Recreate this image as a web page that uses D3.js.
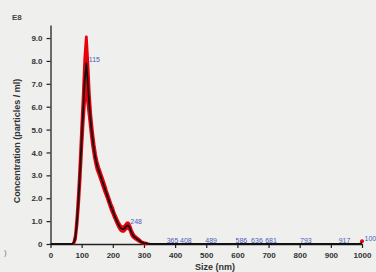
<!DOCTYPE html>
<html><head><meta charset="utf-8">
<script src="https://cdn.jsdelivr.net/npm/d3@7/dist/d3.min.js"></script>
<style>html,body{margin:0;padding:0;background:#efefed;}svg{display:block;}</style>
</head><body>
<svg id="c" width="376" height="272"></svg>
<script>
const sizes = [0, 60, 70, 75, 80, 85, 90, 95, 100, 105, 110, 115, 120, 125, 130, 135, 140, 145, 150, 155, 160, 165, 170, 175, 180, 185, 190, 195, 200, 205, 210, 215, 220, 225, 230, 235, 240, 245, 250, 255, 260, 265, 270, 275, 280, 285, 290, 295, 300, 310, 320, 340, 400, 500, 600, 700, 800, 900, 990, 1000];
const meanConc = [0,0,0.02,0.06,0.3,1.0,2.0,3.2,4.6,5.9,7.2,7.9,7.0,6.0,5.2,4.6,4.1,3.7,3.4,3.2,3.0,2.8,2.6,2.4,2.2,2.0,1.8,1.6,1.45,1.25,1.1,0.95,0.8,0.7,0.65,0.65,0.72,0.8,0.8,0.7,0.5,0.38,0.3,0.25,0.2,0.15,0.1,0.06,0.04,0.02,0.01,0,0,0,0,0,0,0,0,0.05];
const errConc = [0,0,0,0.02,0.1,0.2,0.3,0.4,0.5,0.6,0.9,1.15,0.9,0.5,0.35,0.3,0.25,0.2,0.18,0.15,0.15,0.15,0.15,0.15,0.12,0.12,0.12,0.12,0.12,0.1,0.1,0.1,0.1,0.1,0.1,0.1,0.1,0.12,0.12,0.1,0.1,0.08,0.06,0.05,0.05,0.04,0.03,0.02,0.02,0.01,0,0,0,0,0,0,0,0,0,0.15];
const peakSizes = [115, 248, 365, 408, 489, 586, 636, 681, 793, 917, 1000];
const xTicks = [0,100,200,300,400,500,600,700,800,900,1000];
const yTicks = [0,1,2,3,4,5,6,7,8,9];
const yTickLabels = ["0","1.0","2.0","3.0","4.0","5.0","6.0","7.0","8.0","9.0"];

const svg = d3.select("#c");
const x = d3.scaleLinear().domain([0,1000]).range([50.5,362]);
const y = d3.scaleLinear().domain([0,9.57]).range([244,25]);
const data = sizes.map((s,i)=>({s, m:meanConc[i], e:errConc[i]}));
const font = "Liberation Sans, Arial, sans-serif";

// axes
const xAxis = d3.axisBottom(x).tickValues(xTicks).tickSize(4).tickSizeOuter(0).tickFormat(d3.format("d"));
const gx = svg.append("g").attr("transform","translate(0,244)").call(xAxis);
const yAxis = d3.axisLeft(y).tickValues(yTicks).tickSize(4).tickSizeOuter(0).tickFormat((d,i)=>yTickLabels[i]);
const gy = svg.append("g").attr("transform","translate(50.5,0)").call(yAxis);
[gx,gy].forEach(g=>{
  g.select(".domain").attr("stroke","#222").attr("stroke-width",1.3);
  g.selectAll(".tick line").attr("stroke","#222").attr("stroke-width",1.2);
  g.selectAll(".tick text").attr("fill","#333").attr("font-family",font).attr("font-size",8).attr("font-weight","bold");
});
gx.selectAll(".tick text").attr("dy","0.9em");
gy.selectAll(".tick text").attr("dx","-1");

// red error band (only where there is signal)
const band = data.filter(d=>d.s>=75 && d.s<=310);
const area = d3.area().x(d=>x(d.s)).y0(d=>y(Math.max(0,d.m-d.e))).y1(d=>y(d.m+d.e));
svg.append("path").datum(band).attr("d",area).attr("fill","#e8000b").attr("stroke","#e8000b").attr("stroke-width",2.8).attr("stroke-linejoin","round");
const last = data[data.length-1];
svg.append("circle").attr("cx",x(last.s)).attr("cy",y(last.m+last.e/2)).attr("r",2).attr("fill","#e8000b");
// black mean line
const line = d3.line().x(d=>x(d.s)).y(d=>y(d.m));
svg.append("path").datum(data).attr("d",line).attr("fill","none").attr("stroke","#111").attr("stroke-width",1.8).attr("stroke-linejoin","round");

// peak labels
const interp = s=>{ for(let i=1;i<sizes.length;i++){ if(s<=sizes[i]){const t=(s-sizes[i-1])/(sizes[i]-sizes[i-1]); return meanConc[i-1]+t*(meanConc[i]-meanConc[i-1]);} } return 0; };
svg.append("g").selectAll("text").data(peakSizes).join("text")
  .attr("x",d=>x(d)+2.5).attr("y",d=>y(interp(d))-1.5)
  .attr("fill","#4a5cc0").attr("font-family",font).attr("font-size",7)
  .text(d=>d);

// titles
svg.append("text").attr("x",12).attr("y",20).attr("fill","#444").attr("font-family",font).attr("font-size",8).attr("font-weight","bold").text("E8");
svg.append("text").attr("transform","translate(20,141) rotate(-90)").attr("text-anchor","middle").attr("fill","#333").attr("font-family",font).attr("font-size",9).attr("font-weight","bold").text("Concentration (particles / ml)");
svg.append("text").attr("x",215).attr("y",270).attr("text-anchor","middle").attr("fill","#333").attr("font-family",font).attr("font-size",9).attr("font-weight","bold").text("Size (nm)");
svg.append("text").attr("x",4).attr("y",255).attr("fill","#777").attr("font-family",font).attr("font-size",8).text(")");
</script>
</body></html>
